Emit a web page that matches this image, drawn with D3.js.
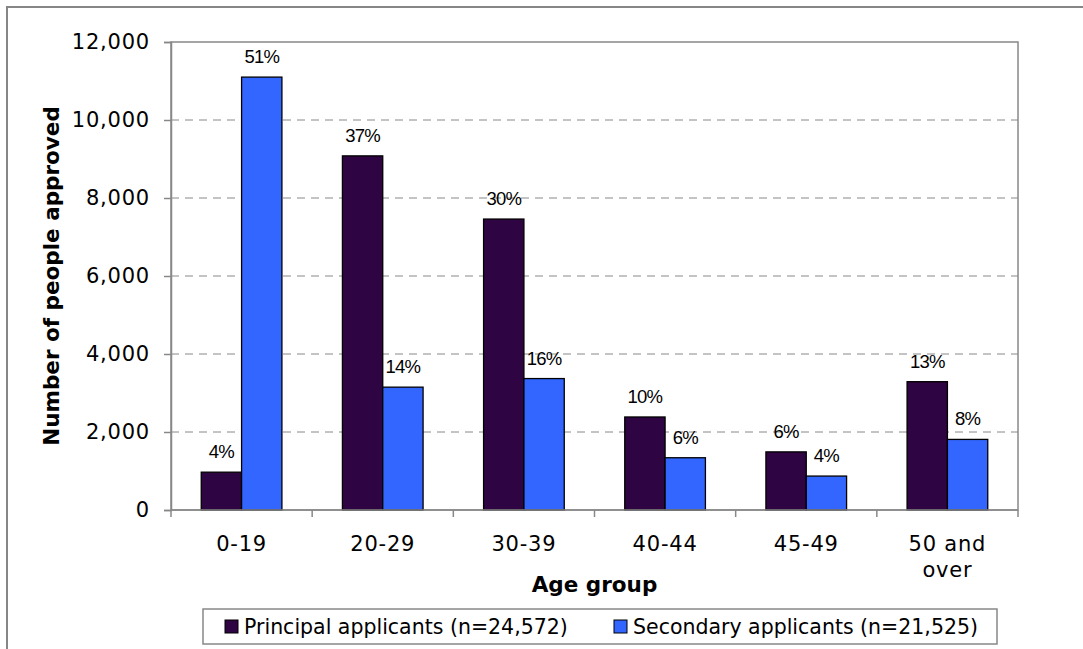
<!DOCTYPE html>
<html>
<head>
<meta charset="utf-8">
<script src="https://cdn.jsdelivr.net/npm/d3@7"></script>
<style>
  html, body { margin: 0; padding: 0; background: #fff; }
  svg { display: block; }
</style>
</head>
<body>
<svg id="chart" width="1083" height="649"></svg>
<script>
// Age groups and approvals by applicant type
const categories = ["0-19", "20-29", "30-39", "40-44", "45-49", "50 and over"];
const seriesNames = ["Principal applicants (n=24,572)", "Secondary applicants (n=21,525)"];
const principal = [970, 9080, 7460, 2385, 1490, 3290];
const secondary = [11100, 3150, 3370, 1340, 870, 1810];
const principalPct = ["4%", "37%", "30%", "10%", "6%", "13%"];
const secondaryPct = ["51%", "14%", "16%", "6%", "4%", "8%"];
const yTicks = [0, 2000, 4000, 6000, 8000, 10000, 12000];
const colors = ["#2f0442", "#3366ff"];

const svg = d3.select("#chart");
const plot = { left: 171, right: 1018, top: 42, bottom: 510 };
const tickFont = "'DejaVu Sans', Verdana, sans-serif";

// outer chart frame (extends past the right/bottom edge)
svg.append("rect")
  .attr("x", 7).attr("y", 7).attr("width", 1200).attr("height", 800)
  .attr("fill", "none").attr("stroke", "#868686").attr("stroke-width", 2);

const x0 = d3.scaleBand().domain(categories).range([plot.left, plot.right]).paddingInner(0).paddingOuter(0);
const x1 = d3.scaleBand().domain([0, 1]).range([0, x0.bandwidth()]).paddingInner(0).paddingOuter(0.75);
const y = d3.scaleLinear().domain([0, 12000]).range([plot.bottom, plot.top]);

// horizontal dashed gridlines
svg.append("g").selectAll("line")
  .data(yTicks.filter(t => t > 0 && t < 12000))
  .join("line")
  .attr("x1", plot.left).attr("x2", plot.right)
  .attr("y1", d => y(d)).attr("y2", d => y(d))
  .attr("stroke", "#888").attr("stroke-width", 1)
  .attr("stroke-dasharray", "8,6");

// plot area border
svg.append("rect")
  .attr("x", plot.left).attr("y", plot.top)
  .attr("width", plot.right - plot.left).attr("height", plot.bottom - plot.top)
  .attr("fill", "none").attr("stroke", "#888").attr("stroke-width", 1.5);

// bars
const groups = svg.append("g").selectAll("g")
  .data(categories)
  .join("g")
  .attr("transform", d => `translate(${x0(d)},0)`);

const barData = (d, i) => [
  { s: 0, v: principal[i], lab: principalPct[i] },
  { s: 1, v: secondary[i], lab: secondaryPct[i] }
];

groups.selectAll("rect")
  .data(barData)
  .join("rect")
  .attr("x", d => x1(d.s))
  .attr("width", x1.bandwidth())
  .attr("y", d => y(d.v))
  .attr("height", d => y(0) - y(d.v))
  .attr("fill", d => colors[d.s])
  .attr("stroke", "#000").attr("stroke-width", 1.3);

groups.selectAll("text.pct")
  .data(barData)
  .join("text")
  .attr("class", "pct")
  .attr("x", d => x1(d.s) + x1.bandwidth() / 2)
  .attr("y", d => y(d.v) - 14)
  .attr("text-anchor", "middle")
  .attr("font-family", "'Liberation Sans', Arial, sans-serif")
  .attr("font-size", 18.5)
  .attr("letter-spacing", -0.8)
  .attr("fill", "#000")
  .text(d => d.lab);

// y axis
const yAxis = svg.append("g")
  .attr("transform", `translate(${plot.left},0)`)
  .call(d3.axisLeft(y).tickValues(yTicks).tickFormat(d3.format(",")).tickSize(7).tickPadding(14));
yAxis.select(".domain").attr("stroke", "#888").attr("stroke-width", 1.5);
yAxis.selectAll(".tick line").attr("stroke", "#888").attr("stroke-width", 1.5);
yAxis.selectAll(".tick text")
  .attr("font-family", tickFont).attr("font-size", 21).attr("letter-spacing", 0.8)
  .attr("fill", "#000");

// x axis with ticks at category boundaries
const xAxisG = svg.append("g");
xAxisG.append("line")
  .attr("x1", plot.left).attr("x2", plot.right)
  .attr("y1", plot.bottom).attr("y2", plot.bottom)
  .attr("stroke", "#888").attr("stroke-width", 1.5);
const boundaries = categories.map(c => x0(c)).concat([plot.right]);
xAxisG.selectAll("line.tk")
  .data(boundaries)
  .join("line")
  .attr("class", "tk")
  .attr("x1", d => d).attr("x2", d => d)
  .attr("y1", plot.bottom).attr("y2", plot.bottom + 7)
  .attr("stroke", "#888").attr("stroke-width", 1.5);

xAxisG.selectAll("text.cat")
  .data(categories)
  .join("text")
  .attr("class", "cat")
  .attr("x", d => x0(d) + x0.bandwidth() / 2)
  .attr("y", 551)
  .attr("text-anchor", "middle")
  .attr("font-family", tickFont).attr("font-size", 21).attr("letter-spacing", 0.8)
  .attr("fill", "#000")
  .each(function(d) {
    const lines = d.split(/(?<=and) /);
    const t = d3.select(this);
    lines.forEach((ln, k) => {
      t.append("tspan").attr("x", x0(d) + x0.bandwidth() / 2).attr("dy", k === 0 ? 0 : 26).text(ln);
    });
  });

// axis titles
svg.append("text")
  .attr("x", (plot.left + plot.right) / 2).attr("y", 592)
  .attr("text-anchor", "middle")
  .attr("font-family", tickFont).attr("font-weight", "bold").attr("font-size", 21.5)
  .text("Age group");

svg.append("text")
  .attr("transform", `translate(59,${(plot.top + plot.bottom) / 2}) rotate(-90)`)
  .attr("text-anchor", "middle")
  .attr("font-family", tickFont).attr("font-weight", "bold").attr("font-size", 21.5)
  .text("Number of people approved");

// legend
const legend = svg.append("g");
legend.append("rect")
  .attr("x", 203).attr("y", 609).attr("width", 794).attr("height", 35)
  .attr("fill", "#fff").attr("stroke", "#888").attr("stroke-width", 1.5);
const legendX = [225, 614];
const items = legend.selectAll("g.item")
  .data(seriesNames)
  .join("g")
  .attr("class", "item")
  .attr("transform", (d, i) => `translate(${legendX[i]},620)`);
items.append("rect")
  .attr("width", 13).attr("height", 13)
  .attr("fill", (d, i) => colors[i])
  .attr("stroke", "#000").attr("stroke-width", 1);
items.append("text")
  .attr("x", 19).attr("y", 14)
  .attr("font-family", tickFont)
  .attr("font-size", 20.5)
  .attr("fill", "#000")
  .text(d => d);
</script>
</body>
</html>
